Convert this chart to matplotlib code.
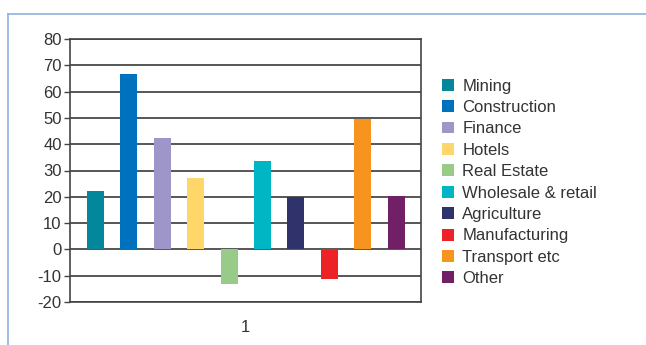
import matplotlib
matplotlib.use("Agg")
import matplotlib.pyplot as plt
from matplotlib.lines import Line2D

plt.rcParams['font.family'] = ['Liberation Sans', 'DejaVu Sans']
plt.rcParams['font.size'] = 12

# ======= 数据 =======
sectors = ["Mining", "Construction", "Finance", "Hotels", "Real Estate",
           "Wholesale & retail", "Agriculture", "Manufacturing",
           "Transport etc", "Other"]
values = [22.2, 66.7, 42.3, 27.1, -13.2, 33.6, 19.9, -11.2, 49.7, 20.3]
colors = ["#02879b", "#0071bc", "#9e96c8", "#fed66a", "#98cb87",
          "#00b6c4", "#30326c", "#ec2227", "#f7941f", "#722066"]
yticks = list(range(-20, 81, 10))
xlabel_text = "1"

W, H = 646, 345
fig = plt.figure(figsize=(W / 100, H / 100), dpi=100)

# 外框（浅蓝，只有上、左两边）
fig.add_artist(Line2D([8 / W, 1], [1 - 14 / H, 1 - 14 / H], color="#8db3e2", lw=1.2))
fig.add_artist(Line2D([8 / W, 8 / W], [0, 1 - 14 / H], color="#8db3e2", lw=1.2))

# 绘图区
x0, x1, y0, y1 = 70, 421, 39, 302
ax = fig.add_axes([x0 / W, 1 - y1 / H, (x1 - x0) / W, (y1 - y0) / H])

xs = list(range(len(values)))
for x, v, c, lab in zip(xs, values, colors, sectors):
    ax.bar(x, v, width=0.51, color=c, label=lab, zorder=3)

ax.set_ylim(-20, 80)
ax.set_xlim(-0.755, len(values) - 1 + 0.74)
ax.set_yticks(yticks)
ax.set_yticklabels([str(t) for t in yticks], color="#333333")
ax.set_xticks([(len(values) - 1) / 2])
ax.set_xticklabels([xlabel_text], color="#333333")
ax.tick_params(axis="x", length=0, pad=13)
ax.tick_params(axis="y", length=4, width=1, color="#444444", pad=2)
ax.yaxis.grid(True, color="#3a3a3a", lw=1.2, zorder=1)
for s in ax.spines.values():
    s.set_color("#444444")
    s.set_linewidth(1.2)

# 图例
handles, labels = ax.get_legend_handles_labels()
fig.legend(handles, labels, loc="upper left",
           bbox_to_anchor=(442 / W, 1 - 78.5 / H), frameon=False,
           handlelength=0.72, handleheight=0.72, handletextpad=0.5,
           labelspacing=0.385, borderaxespad=0, borderpad=0,
           labelcolor="#333333")

fig.savefig("out.png", dpi=100, facecolor="white")
